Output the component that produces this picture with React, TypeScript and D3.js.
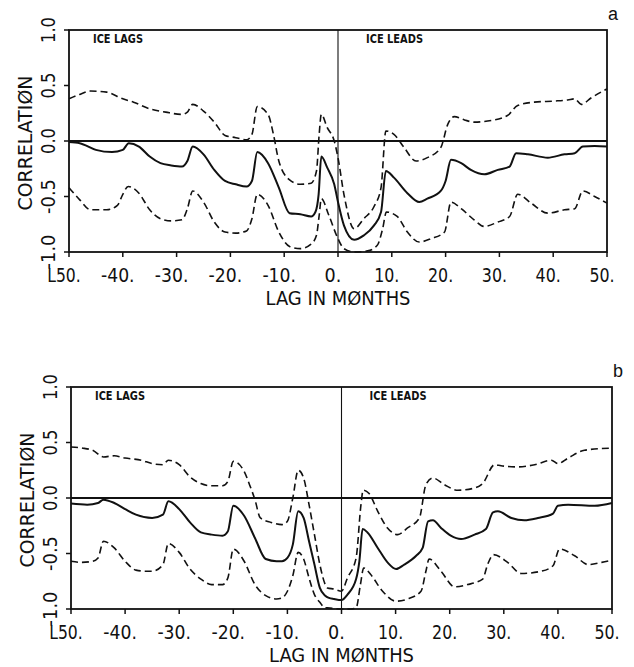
import { useEffect, useRef } from "react";
import * as d3 from "d3";

type Pt = [number, number];

// lag (months), correlation — panel a
const aMean: Pt[] = [[-50,-0.01],[-48,-0.02],[-45,-0.08],[-42,-0.10],[-40,-0.08],[-38.9,-0.02],[-37,-0.05],[-35,-0.14],[-33,-0.20],[-31,-0.22],[-29,-0.23],[-28,-0.18],[-27,-0.05],[-25,-0.12],[-23,-0.26],[-21,-0.36],[-19,-0.39],[-17,-0.41],[-16,-0.36],[-15,-0.10],[-13,-0.20],[-11,-0.42],[-9,-0.65],[-7,-0.66],[-5,-0.68],[-4.2,-0.64],[-3.6,-0.48],[-3.1,-0.14],[-2,-0.24],[-0.7,-0.39],[0,-0.55],[1.1,-0.76],[3,-0.89],[4.8,-0.85],[6.7,-0.76],[8,-0.64],[8.9,-0.27],[10.4,-0.33],[12.9,-0.47],[15.1,-0.55],[16.6,-0.52],[19.1,-0.45],[20,-0.36],[21,-0.17],[22.9,-0.20],[24.7,-0.26],[27.2,-0.30],[29.7,-0.26],[31.9,-0.23],[33.1,-0.11],[35.3,-0.12],[39,-0.15],[42.1,-0.12],[44,-0.11],[45.5,-0.05],[47.7,-0.045],[50,-0.05]];
const aUpper: Pt[] = [[-50,0.38],[-48,0.42],[-46,0.45],[-43,0.44],[-40,0.38],[-38,0.35],[-35,0.29],[-32,0.26],[-29,0.24],[-28,0.26],[-27,0.33],[-25,0.27],[-23,0.17],[-21,0.05],[-19,0.03],[-17,0.01],[-16,0.06],[-15,0.31],[-13,0.24],[-12,0.06],[-11,-0.18],[-9,-0.35],[-7,-0.39],[-5,-0.38],[-4,-0.27],[-3.5,0.06],[-3.1,0.24],[-2,0.12],[-0.7,0],[0,-0.15],[1.1,-0.48],[3,-0.79],[4.8,-0.70],[6.7,-0.59],[8,-0.42],[8.9,0.09],[10.4,0.06],[12.3,-0.06],[14.5,-0.18],[16.6,-0.15],[19.1,-0.06],[20.4,0.15],[21.6,0.22],[23.5,0.19],[25.3,0.17],[27.8,0.18],[31.5,0.23],[33.4,0.32],[36.5,0.35],[40.2,0.36],[42.7,0.37],[44,0.38],[45.2,0.33],[47.1,0.39],[50,0.47]];
const aLower: Pt[] = [[-50,-0.42],[-48,-0.53],[-46,-0.62],[-43,-0.62],[-41,-0.58],[-40,-0.48],[-39,-0.41],[-37,-0.47],[-35,-0.62],[-33,-0.70],[-31,-0.72],[-29,-0.71],[-28,-0.61],[-27,-0.45],[-25,-0.55],[-23,-0.73],[-21,-0.82],[-19,-0.83],[-17,-0.81],[-16,-0.70],[-15,-0.48],[-13,-0.58],[-11,-0.82],[-9,-0.95],[-7,-0.97],[-5,-0.93],[-4,-0.85],[-3.5,-0.67],[-3.1,-0.52],[-1.7,-0.67],[0,-0.88],[1.1,-0.97],[3,-1.0],[5.5,-0.99],[7.3,-0.94],[8.3,-0.79],[9,-0.64],[11,-0.68],[12.9,-0.82],[15.1,-0.91],[17.3,-0.88],[19.8,-0.82],[21,-0.55],[22.9,-0.61],[25.3,-0.71],[27.2,-0.77],[29.7,-0.73],[31.9,-0.68],[33.4,-0.48],[35.9,-0.56],[39,-0.65],[42.1,-0.62],[44,-0.61],[45.5,-0.45],[47.7,-0.50],[50,-0.56]];

// panel b
const bMean: Pt[] = [[-50,-0.05],[-47,-0.06],[-45,-0.045],[-44,-0.015],[-42,-0.045],[-40,-0.10],[-38,-0.15],[-35,-0.18],[-33,-0.15],[-32,-0.03],[-30,-0.10],[-28,-0.22],[-26,-0.31],[-24,-0.33],[-22,-0.34],[-21,-0.30],[-20,-0.07],[-18,-0.16],[-16,-0.36],[-14,-0.55],[-12,-0.57],[-11,-0.57],[-10,-0.54],[-9,-0.42],[-8,-0.12],[-7,-0.18],[-6,-0.39],[-5,-0.60],[-4,-0.81],[-3,-0.88],[-2.3,-0.90],[-1.4,-0.91],[0,-0.92],[1.1,-0.87],[2.7,-0.73],[3.3,-0.57],[3.9,-0.28],[4.8,-0.31],[6.7,-0.45],[8.5,-0.58],[10.1,-0.64],[11.6,-0.60],[13.8,-0.52],[15,-0.45],[16,-0.21],[16.9,-0.20],[18.4,-0.27],[20.2,-0.34],[22.1,-0.37],[24.6,-0.33],[26.7,-0.28],[28,-0.13],[28.9,-0.12],[31.4,-0.18],[33.8,-0.20],[36.3,-0.18],[39.1,-0.14],[40,-0.07],[41.9,-0.06],[46.8,-0.07],[50,-0.045]];
const bUpper: Pt[] = [[-50,0.46],[-48,0.45],[-46,0.43],[-44,0.37],[-42,0.38],[-40,0.36],[-37,0.34],[-35,0.31],[-33,0.30],[-32,0.34],[-30,0.30],[-28,0.19],[-26,0.13],[-24,0.11],[-22,0.11],[-21,0.15],[-20,0.33],[-18,0.24],[-17,0.12],[-16,-0.015],[-15,-0.18],[-13,-0.22],[-11,-0.24],[-10,-0.21],[-9,0.0],[-8,0.25],[-7,0.18],[-6,-0.06],[-5,-0.33],[-4,-0.60],[-3,-0.78],[-2.6,-0.81],[-1.4,-0.82],[0,-0.84],[1.1,-0.72],[2.7,-0.54],[3.6,-0.06],[4,0.07],[5.1,0.04],[6.7,-0.12],[8.5,-0.27],[10.4,-0.33],[12.2,-0.27],[14.4,-0.18],[15.6,0.12],[16.9,0.18],[19,0.12],[21.5,0.07],[24.6,0.09],[26.1,0.13],[28.3,0.30],[29.5,0.29],[32.6,0.28],[35.7,0.30],[38.8,0.34],[40,0.31],[41.9,0.36],[44.9,0.43],[50,0.45]];
const bLower: Pt[] = [[-50,-0.57],[-48,-0.58],[-46,-0.57],[-45,-0.54],[-44,-0.39],[-42,-0.45],[-40,-0.57],[-38,-0.65],[-36,-0.66],[-35,-0.66],[-33,-0.60],[-32,-0.41],[-30,-0.49],[-28,-0.64],[-26,-0.73],[-24,-0.78],[-22,-0.78],[-21,-0.72],[-20,-0.46],[-18,-0.57],[-16,-0.78],[-14,-0.88],[-12,-0.91],[-11,-0.90],[-10,-0.84],[-9,-0.70],[-8,-0.49],[-7,-0.55],[-6,-0.72],[-5,-0.87],[-4,-0.94],[-3,-0.99],[-2.6,-0.99],[0,-1.0],[1.7,-1.0],[2.7,-0.99],[3.5,-0.78],[4.1,-0.63],[5.4,-0.69],[7.6,-0.84],[10.1,-0.93],[12.2,-0.91],[14.7,-0.84],[15.6,-0.66],[16.2,-0.55],[18.4,-0.66],[20.9,-0.80],[23.3,-0.78],[26.1,-0.73],[27,-0.60],[28.1,-0.51],[30.7,-0.58],[33.2,-0.68],[36.9,-0.66],[39.1,-0.61],[40.3,-0.46],[43.1,-0.52],[45.6,-0.60],[48.1,-0.58],[50,-0.56]];

const xTicks = [-50, -40, -30, -20, -10, 0, 10, 20, 30, 40, 50];
const xTickLabels = ["L50.", "-40.", "-30.", "-20.", "-10.", "0.", "10.", "20.", "30.", "40.", "50."];
const yTicks = [1, 0.5, 0, -0.5, -1];
const yTickLabels = ["1.0", "0.5", "0.0", "-0.5", "-1.0"];

const FONT = "DejaVu Sans, sans-serif";

const panels = [
  { letter: "a", left: 69, right: 607, top: 30, bottom: 252, mean: aMean, upper: aUpper, lower: aLower },
  { letter: "b", left: 71, right: 612, top: 387, bottom: 609, mean: bMean, upper: bUpper, lower: bLower },
];

const App = () => {
  const ref = useRef<SVGSVGElement>(null);

  useEffect(() => {
    const svg = d3.select(ref.current);
    svg.selectAll("*").remove();

    panels.forEach(p => {
      const x = d3.scaleLinear().domain([-50, 50]).range([p.left, p.right]);
      const y = d3.scaleLinear().domain([-1, 1]).range([p.bottom, p.top]);
      const g = svg.append("g");

      const line = d3.line<Pt>().x(d => x(d[0])).y(d => y(d[1])).curve(d3.curveMonotoneX);

      // zero lines
      g.append("line").attr("x1", p.left).attr("x2", p.right)
        .attr("y1", y(0)).attr("y2", y(0)).attr("stroke", "#111").attr("stroke-width", 1.8);
      g.append("line").attr("x1", x(0)).attr("x2", x(0))
        .attr("y1", p.top).attr("y2", p.bottom).attr("stroke", "#111").attr("stroke-width", 1.1);

      g.append("path").datum(p.upper).attr("d", line).attr("fill", "none")
        .attr("stroke", "#111").attr("stroke-width", 1.6).attr("stroke-dasharray", "7,4");
      g.append("path").datum(p.lower).attr("d", line).attr("fill", "none")
        .attr("stroke", "#111").attr("stroke-width", 1.6).attr("stroke-dasharray", "7,4");
      g.append("path").datum(p.mean).attr("d", line).attr("fill", "none")
        .attr("stroke", "#111").attr("stroke-width", 2);

      // frame
      g.append("rect").attr("x", p.left).attr("y", p.top)
        .attr("width", p.right - p.left).attr("height", p.bottom - p.top)
        .attr("fill", "none").attr("stroke", "#111").attr("stroke-width", 1.8);

      // x ticks
      xTicks.forEach((t, i) => {
        g.append("line").attr("x1", x(t)).attr("x2", x(t))
          .attr("y1", p.bottom).attr("y2", p.bottom + 5).attr("stroke", "#111").attr("stroke-width", 1.5);
        const lbl = xTickLabels[i];
        g.append("text").attr("x", x(t) - 5).attr("y", p.bottom + 30)
          .attr("text-anchor", "middle").attr("font-family", FONT).attr("font-size", 19)
          .attr("textLength", lbl.length * 8.4).attr("lengthAdjust", "spacingAndGlyphs")
          .attr("fill", "#111").text(lbl);
      });

      // y ticks
      yTicks.forEach((t, i) => {
        g.append("line").attr("x1", p.left - 5).attr("x2", p.left)
          .attr("y1", y(t)).attr("y2", y(t)).attr("stroke", "#111").attr("stroke-width", 1.5);
        const lbl = yTickLabels[i];
        g.append("text")
          .attr("transform", `translate(${p.left - 14},${y(t)}) rotate(-90)`)
          .attr("text-anchor", "middle").attr("font-family", FONT).attr("font-size", 19)
          .attr("textLength", lbl.length * 8.7).attr("lengthAdjust", "spacingAndGlyphs")
          .attr("fill", "#111").text(lbl);
      });

      // axis titles
      g.append("text").attr("x", (p.left + p.right) / 2).attr("y", p.bottom + 53)
        .attr("text-anchor", "middle").attr("font-family", FONT).attr("font-size", 19)
        .attr("textLength", 145).attr("lengthAdjust", "spacingAndGlyphs")
        .attr("fill", "#111").text("LAG IN MØNTHS");
      g.append("text")
        .attr("transform", `translate(${p.left - 37},${(p.top + p.bottom) / 2 + 2}) rotate(-90)`)
        .attr("text-anchor", "middle").attr("font-family", FONT).attr("font-size", 20)
        .attr("textLength", 135).attr("lengthAdjust", "spacingAndGlyphs")
        .attr("fill", "#111").text("CORRELATIØN");

      g.append("text").attr("x", p.left + 24).attr("y", p.top + 13)
        .attr("font-family", FONT).attr("font-size", 12).attr("font-weight", "bold")
        .attr("textLength", 50).attr("lengthAdjust", "spacingAndGlyphs")
        .attr("fill", "#111").text("ICE LAGS");
      g.append("text").attr("x", x(0) + 28).attr("y", p.top + 13)
        .attr("font-family", FONT).attr("font-size", 12).attr("font-weight", "bold")
        .attr("textLength", 57).attr("lengthAdjust", "spacingAndGlyphs")
        .attr("fill", "#111").text("ICE LEADS");

      g.append("text").attr("x", p.right + 1).attr("y", p.top - 10)
        .attr("font-family", "Liberation Sans, Arial, sans-serif").attr("font-size", 18)
        .attr("fill", "#111").text(p.letter);
    });
  }, []);

  return (
    <div>
      <svg ref={ref} width={634} height={667}
        style={{ position: "absolute", left: 0, top: 0, background: "#fff" }} />
    </div>
  );
};

export default App;
